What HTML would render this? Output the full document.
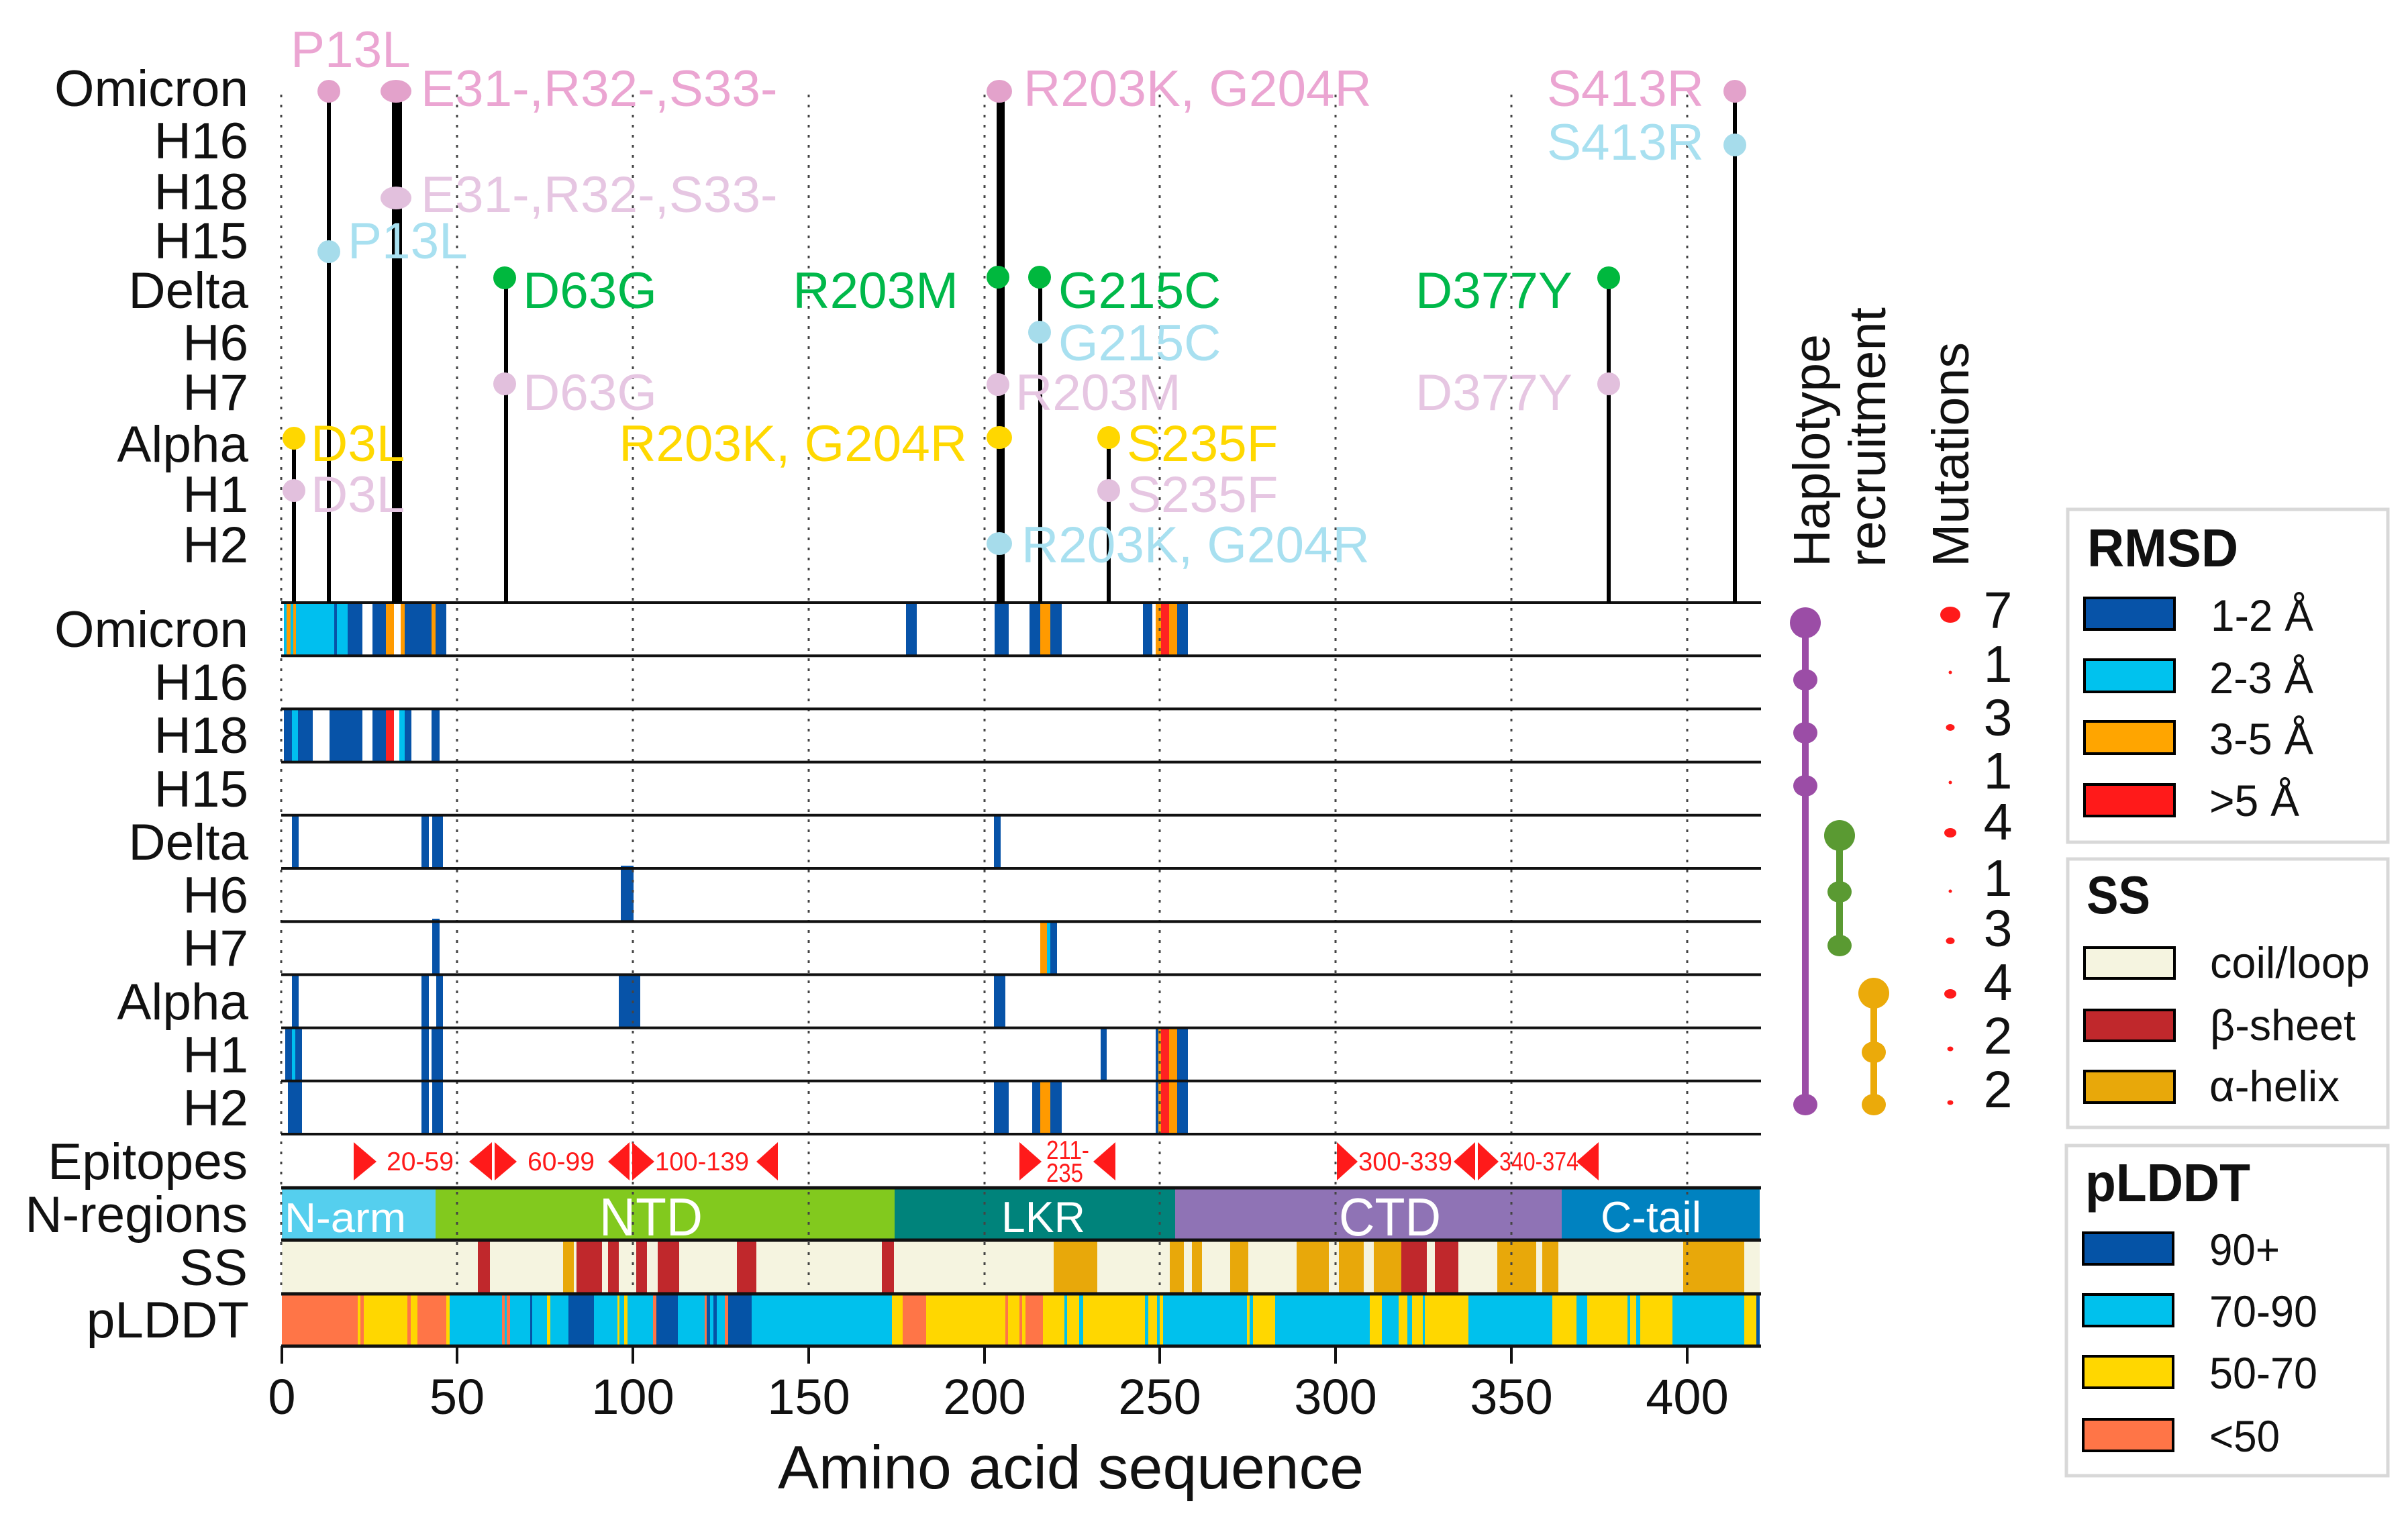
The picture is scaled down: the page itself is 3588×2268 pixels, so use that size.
<!DOCTYPE html>
<html><head><meta charset="utf-8"><style>
html,body{margin:0;padding:0;background:#fff;}
svg{display:block;}
text{font-family:"Liberation Sans",Arial,sans-serif;}
</style></head><body>
<svg width="3588" height="2268" viewBox="0 0 3588 2268" xmlns="http://www.w3.org/2000/svg">
<rect x="0" y="0" width="3588" height="2268" fill="#fff"/>

<!-- RMSD bars -->
<g>
<!-- Omicron 898-977 -->
<rect x="423" y="898" width="4" height="79" fill="#00BFEF"/>
<rect x="427" y="898" width="6" height="79" fill="#FF9A00"/>
<rect x="433" y="898" width="4" height="79" fill="#00BFEF"/>
<rect x="437" y="898" width="4" height="79" fill="#FF9A00"/>
<rect x="441" y="898" width="57" height="79" fill="#00BFEF"/>
<rect x="498" y="898" width="4" height="79" fill="#0753A8"/>
<rect x="502" y="898" width="16" height="79" fill="#00BFEF"/>
<rect x="518" y="898" width="22" height="79" fill="#0753A8"/>
<rect x="555" y="898" width="20" height="79" fill="#0753A8"/>
<rect x="575" y="898" width="12" height="79" fill="#FF9A00"/>
<rect x="597" y="898" width="6" height="79" fill="#FF9A00"/>
<rect x="603" y="898" width="40" height="79" fill="#0753A8"/>
<rect x="643" y="898" width="6" height="79" fill="#FF9A00"/>
<rect x="649" y="898" width="16" height="79" fill="#0753A8"/>
<rect x="1350" y="898" width="16" height="79" fill="#0753A8"/>
<rect x="1482" y="898" width="21" height="79" fill="#0753A8"/>
<rect x="1534" y="898" width="16" height="79" fill="#0753A8"/>
<rect x="1550" y="898" width="15" height="79" fill="#FF9A00"/>
<rect x="1565" y="898" width="17" height="79" fill="#0753A8"/>
<rect x="1703" y="898" width="14" height="79" fill="#0753A8"/>
<rect x="1722" y="898" width="8" height="79" fill="#FF9A00"/>
<rect x="1730" y="898" width="12" height="79" fill="#FF2222"/>
<rect x="1742" y="898" width="12" height="79" fill="#FF9A00"/>
<rect x="1754" y="898" width="16" height="79" fill="#0753A8"/>
<!-- H18 1057-1135 -->
<rect x="423" y="1057" width="12" height="79" fill="#0753A8"/>
<rect x="435" y="1057" width="9" height="79" fill="#00BFEF"/>
<rect x="444" y="1057" width="22" height="79" fill="#0753A8"/>
<rect x="491" y="1057" width="49" height="79" fill="#0753A8"/>
<rect x="555" y="1057" width="20" height="79" fill="#0753A8"/>
<rect x="575" y="1057" width="12" height="79" fill="#FF2222"/>
<rect x="595" y="1057" width="8" height="79" fill="#00BFEF"/>
<rect x="603" y="1057" width="10" height="79" fill="#0753A8"/>
<rect x="643" y="1057" width="12" height="79" fill="#0753A8"/>
<!-- Delta 1215-1294 -->
<rect x="435" y="1215" width="10" height="79" fill="#0753A8"/>
<rect x="628" y="1215" width="11" height="79" fill="#0753A8"/>
<rect x="644" y="1215" width="16" height="79" fill="#0753A8"/>
<rect x="1481" y="1215" width="10" height="79" fill="#0753A8"/>
<!-- H6 -->
<rect x="925" y="1290" width="19" height="83" fill="#0753A8"/>
<!-- H7 1373-1453 -->
<rect x="644" y="1369" width="11" height="84" fill="#0753A8"/>
<rect x="1550" y="1373" width="10" height="80" fill="#FF9A00"/>
<rect x="1560" y="1373" width="5" height="80" fill="#00BFEF"/>
<rect x="1565" y="1373" width="10" height="80" fill="#0753A8"/>
<!-- Alpha 1453-1531 -->
<rect x="435" y="1453" width="10" height="78" fill="#0753A8"/>
<rect x="628" y="1453" width="11" height="78" fill="#0753A8"/>
<rect x="650" y="1453" width="10" height="78" fill="#0753A8"/>
<rect x="922" y="1453" width="32" height="78" fill="#0753A8"/>
<rect x="1481" y="1453" width="17" height="78" fill="#0753A8"/>
<!-- H1 1531-1611 -->
<rect x="425" y="1531" width="10" height="80" fill="#0753A8"/>
<rect x="435" y="1531" width="5" height="80" fill="#00BFEF"/>
<rect x="440" y="1531" width="10" height="80" fill="#0753A8"/>
<rect x="628" y="1531" width="11" height="80" fill="#0753A8"/>
<rect x="643" y="1531" width="17" height="80" fill="#0753A8"/>
<rect x="1640" y="1531" width="9" height="80" fill="#0753A8"/>
<rect x="1722" y="1531" width="4" height="80" fill="#0753A8"/>
<rect x="1726" y="1531" width="4" height="80" fill="#FF9A00"/>
<rect x="1730" y="1531" width="12" height="80" fill="#FF2222"/>
<rect x="1742" y="1531" width="12" height="80" fill="#FF9A00"/>
<rect x="1754" y="1531" width="16" height="80" fill="#0753A8"/>
<!-- H2 1611-1690 -->
<rect x="429" y="1611" width="21" height="79" fill="#0753A8"/>
<rect x="628" y="1611" width="11" height="79" fill="#0753A8"/>
<rect x="644" y="1611" width="16" height="79" fill="#0753A8"/>
<rect x="1481" y="1611" width="22" height="79" fill="#0753A8"/>
<rect x="1538" y="1611" width="12" height="79" fill="#0753A8"/>
<rect x="1550" y="1611" width="15" height="79" fill="#FF9A00"/>
<rect x="1565" y="1611" width="17" height="79" fill="#0753A8"/>
<rect x="1722" y="1611" width="4" height="79" fill="#0753A8"/>
<rect x="1726" y="1611" width="4" height="79" fill="#FF9A00"/>
<rect x="1730" y="1611" width="12" height="79" fill="#FF2222"/>
<rect x="1742" y="1611" width="12" height="79" fill="#FF9A00"/>
<rect x="1754" y="1611" width="16" height="79" fill="#0753A8"/>
</g>

<!-- N-regions -->
<rect x="420" y="1770" width="229" height="78" fill="#55CFEE"/>
<rect x="649" y="1770" width="684" height="78" fill="#82C91E"/>
<rect x="1333" y="1770" width="418" height="78" fill="#00837B"/>
<rect x="1751" y="1770" width="576" height="78" fill="#8F73B5"/>
<rect x="2327" y="1770" width="295" height="78" fill="#0082C0"/>

<!-- SS -->
<rect x="420" y="1848" width="2202" height="80" fill="#F5F4E0"/>
<g fill="#C0282C">
<rect x="712" y="1848" width="18" height="80"/>
<rect x="859" y="1848" width="38" height="80"/>
<rect x="906" y="1848" width="16" height="80"/>
<rect x="948" y="1848" width="16" height="80"/>
<rect x="980" y="1848" width="32" height="80"/>
<rect x="1098" y="1848" width="29" height="80"/>
<rect x="1314" y="1848" width="18" height="80"/>
<rect x="2088" y="1848" width="38" height="80"/>
<rect x="2138" y="1848" width="35" height="80"/>
</g>
<g fill="#E8A80A">
<rect x="839" y="1848" width="16" height="80"/>
<rect x="1570" y="1848" width="65" height="80"/>
<rect x="1743" y="1848" width="21" height="80"/>
<rect x="1776" y="1848" width="15" height="80"/>
<rect x="1833" y="1848" width="27" height="80"/>
<rect x="1932" y="1848" width="48" height="80"/>
<rect x="1995" y="1848" width="37" height="80"/>
<rect x="2047" y="1848" width="41" height="80"/>
<rect x="2231" y="1848" width="58" height="80"/>
<rect x="2298" y="1848" width="24" height="80"/>
<rect x="2508" y="1848" width="91" height="80"/>
</g>

<!-- pLDDT -->
<g>
<rect x="420" y="1928" width="2202" height="78" fill="#00C1ED"/>
<g fill="#FF7547">
<rect x="420" y="1928" width="113" height="78"/>
<rect x="537" y="1928" width="5" height="78"/>
<rect x="607" y="1928" width="5" height="78"/>
<rect x="622" y="1928" width="43" height="78"/>
<rect x="748" y="1928" width="4" height="78"/>
<rect x="755" y="1928" width="5" height="78"/>
<rect x="973" y="1928" width="5" height="78"/>
<rect x="1050" y="1928" width="3" height="78"/>
<rect x="1080" y="1928" width="5" height="78"/>
<rect x="1345" y="1928" width="35" height="78"/>
<rect x="1498" y="1928" width="4" height="78"/>
<rect x="1519" y="1928" width="4" height="78"/>
<rect x="1528" y="1928" width="26" height="78"/>
</g>
<g fill="#FFD700">
<rect x="533" y="1928" width="4" height="78"/>
<rect x="542" y="1928" width="65" height="78"/>
<rect x="612" y="1928" width="10" height="78"/>
<rect x="665" y="1928" width="5" height="78"/>
<rect x="815" y="1928" width="5" height="78"/>
<rect x="920" y="1928" width="3" height="78"/>
<rect x="930" y="1928" width="5" height="78"/>
<rect x="1329" y="1928" width="16" height="78"/>
<rect x="1380" y="1928" width="118" height="78"/>
<rect x="1502" y="1928" width="17" height="78"/>
<rect x="1523" y="1928" width="5" height="78"/>
<rect x="1554" y="1928" width="32" height="78"/>
<rect x="1590" y="1928" width="18" height="78"/>
<rect x="1614" y="1928" width="92" height="78"/>
<rect x="1711" y="1928" width="13" height="78"/>
<rect x="1728" y="1928" width="5" height="78"/>
<rect x="1858" y="1928" width="4" height="78"/>
<rect x="1867" y="1928" width="33" height="78"/>
<rect x="2041" y="1928" width="18" height="78"/>
<rect x="2084" y="1928" width="13" height="78"/>
<rect x="2104" y="1928" width="16" height="78"/>
<rect x="2123" y="1928" width="65" height="78"/>
<rect x="2313" y="1928" width="36" height="78"/>
<rect x="2365" y="1928" width="60" height="78"/>
<rect x="2429" y="1928" width="9" height="78"/>
<rect x="2444" y="1928" width="48" height="78"/>
<rect x="2599" y="1928" width="18" height="78"/>
</g>
<g fill="#0553A6">
<rect x="790" y="1928" width="3" height="78"/>
<rect x="847" y="1928" width="38" height="78"/>
<rect x="978" y="1928" width="32" height="78"/>
<rect x="1053" y="1928" width="5" height="78"/>
<rect x="1063" y="1928" width="5" height="78"/>
<rect x="1085" y="1928" width="35" height="78"/>
<rect x="2617" y="1928" width="5" height="78"/>
</g>
</g>

<!-- gridlines -->
<g stroke="#444" stroke-width="3" stroke-dasharray="4 11">
<line x1="419" y1="141" x2="419" y2="1926"/>
<line x1="681" y1="141" x2="681" y2="1926"/>
<line x1="943" y1="141" x2="943" y2="1926"/>
<line x1="1205" y1="141" x2="1205" y2="1926"/>
<line x1="1467" y1="141" x2="1467" y2="1926"/>
<line x1="1728" y1="141" x2="1728" y2="1926"/>
<line x1="1990" y1="141" x2="1990" y2="1926"/>
<line x1="2252" y1="141" x2="2252" y2="1926"/>
<line x1="2514" y1="141" x2="2514" y2="1926"/>
</g>

<!-- row lines -->
<g stroke="#111" stroke-width="4">
<line x1="419" y1="898" x2="2624" y2="898"/>
<line x1="419" y1="977.2" x2="2624" y2="977.2"/>
<line x1="419" y1="1056.4" x2="2624" y2="1056.4"/>
<line x1="419" y1="1135.6" x2="2624" y2="1135.6"/>
<line x1="419" y1="1214.8" x2="2624" y2="1214.8"/>
<line x1="419" y1="1294" x2="2624" y2="1294"/>
<line x1="419" y1="1373.2" x2="2624" y2="1373.2"/>
<line x1="419" y1="1452.4" x2="2624" y2="1452.4"/>
<line x1="419" y1="1531.6" x2="2624" y2="1531.6"/>
<line x1="419" y1="1610.8" x2="2624" y2="1610.8"/>
<line x1="419" y1="1690" x2="2624" y2="1690"/>
</g>
<g stroke="#111" stroke-width="5">
<line x1="419" y1="1770" x2="2624" y2="1770"/>
<line x1="419" y1="1848" x2="2624" y2="1848"/>
<line x1="419" y1="1928" x2="2624" y2="1928"/>
<line x1="419" y1="2006" x2="2624" y2="2006"/>
</g>
<!-- ticks -->
<g stroke="#111" stroke-width="4">
<line x1="420" y1="2006" x2="420" y2="2032"/>
<line x1="681" y1="2006" x2="681" y2="2032"/>
<line x1="943" y1="2006" x2="943" y2="2032"/>
<line x1="1205" y1="2006" x2="1205" y2="2032"/>
<line x1="1467" y1="2006" x2="1467" y2="2032"/>
<line x1="1728" y1="2006" x2="1728" y2="2032"/>
<line x1="1990" y1="2006" x2="1990" y2="2032"/>
<line x1="2252" y1="2006" x2="2252" y2="2032"/>
<line x1="2514" y1="2006" x2="2514" y2="2032"/>
</g>
<g font-size="74" text-anchor="middle" fill="#111">
<text x="420" y="2107">0</text>
<text x="681" y="2107">50</text>
<text x="943" y="2107">100</text>
<text x="1205" y="2107">150</text>
<text x="1467" y="2107">200</text>
<text x="1728" y="2107">250</text>
<text x="1990" y="2107">300</text>
<text x="2252" y="2107">350</text>
<text x="2514" y="2107">400</text>
</g>
<text x="1159" y="2218" font-size="91" fill="#111" textLength="873" lengthAdjust="spacingAndGlyphs">Amino acid sequence</text>

<!-- stems -->
<g fill="#000">
<rect x="435" y="653" width="6" height="245"/>
<rect x="487" y="136" width="6" height="762"/>
<rect x="584" y="136" width="15" height="762"/>
<rect x="751" y="414" width="6" height="484"/>
<rect x="1485" y="136" width="12" height="762"/>
<rect x="1547" y="414" width="6" height="484"/>
<rect x="1649" y="653" width="6" height="245"/>
<rect x="2394" y="414" width="6" height="484"/>
<rect x="2582" y="136" width="6" height="762"/>
</g>

<!-- dots -->
<g>
<circle cx="490" cy="136" r="17" fill="#E3A2CB"/>
<ellipse cx="590" cy="136" rx="23" ry="17" fill="#E3A2CB"/>
<ellipse cx="1489" cy="136" rx="19" ry="17" fill="#E3A2CB"/>
<circle cx="2585" cy="136" r="17" fill="#E3A2CB"/>
<circle cx="2585" cy="216" r="17" fill="#A6DCEB"/>
<ellipse cx="590" cy="295" rx="23" ry="17" fill="#E2C0DD"/>
<circle cx="490" cy="375" r="17" fill="#A6DCEB"/>
<circle cx="752" cy="414" r="17" fill="#00B83E"/>
<circle cx="1487" cy="413" r="17" fill="#00B83E"/>
<circle cx="1549" cy="413" r="17" fill="#00B83E"/>
<circle cx="2397" cy="414" r="17" fill="#00B83E"/>
<circle cx="1549" cy="495" r="17" fill="#A6DCEB"/>
<circle cx="752" cy="572" r="17" fill="#E2C0DD"/>
<circle cx="1487" cy="573" r="17" fill="#E2C0DD"/>
<circle cx="2397" cy="572" r="17" fill="#E2C0DD"/>
<circle cx="438" cy="653" r="17" fill="#FFD700"/>
<ellipse cx="1489" cy="652" rx="19" ry="17" fill="#FFD700"/>
<circle cx="1652" cy="652" r="17" fill="#FFD700"/>
<circle cx="438" cy="731" r="17" fill="#E2C0DD"/>
<circle cx="1652" cy="731" r="17" fill="#E2C0DD"/>
<ellipse cx="1489" cy="810" rx="19" ry="17" fill="#A6DCEB"/>
</g>

<!-- mutation labels -->
<g font-size="76.5">
<text x="433" y="100" fill="#EBA5D2">P13L</text>
<text x="627" y="158" fill="#EBA5D2">E31-,R32-,S33-</text>
<text x="1525" y="158" fill="#EBA5D2">R203K, G204R</text>
<text x="2305" y="158" fill="#EBA5D2">S413R</text>
<text x="2305" y="238" fill="#A8E0F0">S413R</text>
<text x="627" y="316" fill="#E6C6E2">E31-,R32-,S33-</text>
<text x="518" y="385" fill="#A8E0F0">P13L</text>
<text x="779" y="459" fill="#00B84A">D63G</text>
<text x="1428" y="459" fill="#00B84A" text-anchor="end">R203M</text>
<text x="1577" y="459" fill="#00B84A">G215C</text>
<text x="2109" y="459" fill="#00B84A">D377Y</text>
<text x="1577" y="537" fill="#A8E0F0">G215C</text>
<text x="779" y="611" fill="#E6C6E2">D63G</text>
<text x="1513" y="611" fill="#E6C6E2">R203M</text>
<text x="2109" y="611" fill="#E6C6E2">D377Y</text>
<text x="463" y="687" fill="#FFD800">D3L</text>
<text x="1441" y="687" fill="#FFD800" text-anchor="end">R203K, G204R</text>
<text x="1679" y="687" fill="#FFD800">S235F</text>
<text x="463" y="763" fill="#E6C6E2">D3L</text>
<text x="1679" y="763" fill="#E6C6E2">S235F</text>
<text x="1522" y="838" fill="#A8E0F0">R203K, G204R</text>
</g>

<!-- row labels -->
<g font-size="76.5" text-anchor="end" fill="#111">
<text x="370" y="158">Omicron</text>
<text x="370" y="236">H16</text>
<text x="370" y="312">H18</text>
<text x="370" y="385">H15</text>
<text x="370" y="459">Delta</text>
<text x="370" y="537">H6</text>
<text x="370" y="611">H7</text>
<text x="370" y="688">Alpha</text>
<text x="370" y="763">H1</text>
<text x="370" y="838">H2</text>

<text x="370" y="964">Omicron</text>
<text x="370" y="1043">H16</text>
<text x="370" y="1122">H18</text>
<text x="370" y="1202">H15</text>
<text x="370" y="1281">Delta</text>
<text x="370" y="1360">H6</text>
<text x="370" y="1439">H7</text>
<text x="370" y="1519">Alpha</text>
<text x="370" y="1598">H1</text>
<text x="370" y="1677">H2</text>

<text x="369" y="1757">Epitopes</text>
<text x="369" y="1836">N-regions</text>
<text x="369" y="1915">SS</text>
<text x="371" y="1993">pLDDT</text>
</g>

<!-- epitopes -->
<g fill="#FF1A1A">
<polygon points="527,1702 561,1731 527,1759"/>
<polygon points="699,1731 733,1702 733,1759"/>
<polygon points="737,1702 770,1731 737,1759"/>
<polygon points="906,1731 938,1702 938,1759"/>
<polygon points="942,1702 975,1731 942,1759"/>
<polygon points="1127,1731 1159,1702 1159,1759"/>
<polygon points="1519,1702 1552,1731 1519,1759"/>
<polygon points="1629,1731 1662,1702 1662,1759"/>
<polygon points="1992,1702 2023,1731 1992,1759"/>
<polygon points="2166,1731 2198,1702 2198,1759"/>
<polygon points="2202,1702 2233,1731 2202,1759"/>
<polygon points="2349,1731 2382,1702 2382,1759"/>
</g>
<g font-size="39" fill="#FF1A1A">
<text x="576" y="1744" textLength="100" lengthAdjust="spacingAndGlyphs">20-59</text>
<text x="786" y="1744" textLength="100" lengthAdjust="spacingAndGlyphs">60-99</text>
<text x="976" y="1744" textLength="140" lengthAdjust="spacingAndGlyphs">100-139</text>
<text x="1559" y="1727" textLength="64" lengthAdjust="spacingAndGlyphs">211-</text>
<text x="1559" y="1761" textLength="55" lengthAdjust="spacingAndGlyphs">235</text>
<text x="2024" y="1744" textLength="140" lengthAdjust="spacingAndGlyphs">300-339</text>
<text x="2234" y="1744" textLength="118" lengthAdjust="spacingAndGlyphs">340-374</text>
</g>

<!-- region labels -->
<g fill="#fff">
<text x="424" y="1836" font-size="62" textLength="181" lengthAdjust="spacingAndGlyphs">N-arm</text>
<text x="893" y="1841" font-size="80" textLength="154" lengthAdjust="spacingAndGlyphs">NTD</text>
<text x="1492" y="1836" font-size="65" textLength="125" lengthAdjust="spacingAndGlyphs">LKR</text>
<text x="1995" y="1841" font-size="80" textLength="152" lengthAdjust="spacingAndGlyphs">CTD</text>
<text x="2385" y="1836" font-size="65" textLength="150" lengthAdjust="spacingAndGlyphs">C-tail</text>
</g>

<!-- Haplotype recruitment / Mutations headers -->
<g font-size="77" fill="#111">
<text transform="translate(2726,845) rotate(-90)" textLength="347" lengthAdjust="spacingAndGlyphs">Haplotype</text>
<text transform="translate(2809,845) rotate(-90)" textLength="387" lengthAdjust="spacingAndGlyphs">recruitment</text>
<text transform="translate(2933,845) rotate(-90)" textLength="335" lengthAdjust="spacingAndGlyphs">Mutations</text>
</g>

<!-- haplotype recruitment -->
<g>
<rect x="2685" y="928" width="10" height="718" fill="#9B4DA6"/>
<circle cx="2690" cy="928" r="23" fill="#9B4DA6"/>
<ellipse cx="2690" cy="1013" rx="18" ry="16" fill="#9B4DA6"/>
<ellipse cx="2690" cy="1092" rx="18" ry="16" fill="#9B4DA6"/>
<ellipse cx="2690" cy="1171" rx="18" ry="16" fill="#9B4DA6"/>
<ellipse cx="2690" cy="1646" rx="18" ry="16" fill="#9B4DA6"/>
<rect x="2736" y="1245" width="10" height="164" fill="#5A9A32"/>
<circle cx="2741" cy="1245" r="23" fill="#5A9A32"/>
<ellipse cx="2741" cy="1329" rx="18" ry="16" fill="#5A9A32"/>
<ellipse cx="2741" cy="1409" rx="18" ry="16" fill="#5A9A32"/>
<rect x="2787" y="1480" width="10" height="166" fill="#EBAA0A"/>
<circle cx="2792" cy="1480" r="23" fill="#EBAA0A"/>
<ellipse cx="2792" cy="1568" rx="18" ry="16" fill="#EBAA0A"/>
<ellipse cx="2792" cy="1646" rx="18" ry="16" fill="#EBAA0A"/>
</g>

<!-- mutation counts -->
<g fill="#FF1A1A">
<ellipse cx="2906" cy="916" rx="15" ry="12"/>
<circle cx="2906" cy="1002" r="2.5"/>
<ellipse cx="2906" cy="1084" rx="6.5" ry="5"/>
<circle cx="2906" cy="1166" r="2.5"/>
<ellipse cx="2906" cy="1241" rx="9" ry="7"/>
<circle cx="2906" cy="1328" r="2.5"/>
<ellipse cx="2906" cy="1402" rx="6.5" ry="5"/>
<ellipse cx="2906" cy="1481" rx="9" ry="7"/>
<ellipse cx="2906" cy="1563" rx="4.5" ry="3.5"/>
<ellipse cx="2906" cy="1643" rx="4.5" ry="3.5"/>
</g>
<g font-size="77" fill="#111" text-anchor="middle">
<text x="2977" y="936">7</text>
<text x="2977" y="1016">1</text>
<text x="2977" y="1096">3</text>
<text x="2977" y="1175">1</text>
<text x="2977" y="1251">4</text>
<text x="2977" y="1335">1</text>
<text x="2977" y="1410">3</text>
<text x="2977" y="1490">4</text>
<text x="2977" y="1570">2</text>
<text x="2977" y="1650">2</text>
</g>

<!-- Legends -->
<g>
<rect x="3081" y="759" width="477" height="496" fill="#fff" stroke="#D8D8D8" stroke-width="5"/>
<text x="3110" y="844" font-size="80" font-weight="bold" fill="#111" textLength="225" lengthAdjust="spacingAndGlyphs">RMSD</text>
<rect x="3106" y="891" width="134" height="47" fill="#0753A8" stroke="#000" stroke-width="4"/>
<rect x="3106" y="983" width="134" height="48" fill="#00C2EE" stroke="#000" stroke-width="4"/>
<rect x="3106" y="1075" width="134" height="48" fill="#FFA500" stroke="#000" stroke-width="4"/>
<rect x="3106" y="1169" width="134" height="47" fill="#FF1A1A" stroke="#000" stroke-width="4"/>
<g font-size="66" fill="#111">
<text x="3294" y="940" textLength="153" lengthAdjust="spacingAndGlyphs">1-2 Å</text>
<text x="3292" y="1033" textLength="155" lengthAdjust="spacingAndGlyphs">2-3 Å</text>
<text x="3292" y="1124" textLength="155" lengthAdjust="spacingAndGlyphs">3-5 Å</text>
<text x="3292" y="1216" textLength="134" lengthAdjust="spacingAndGlyphs">&gt;5 Å</text>
</g>

<rect x="3081" y="1280" width="477" height="400" fill="#fff" stroke="#D8D8D8" stroke-width="5"/>
<text x="3109" y="1361" font-size="80" font-weight="bold" fill="#111" textLength="95" lengthAdjust="spacingAndGlyphs">SS</text>
<rect x="3106" y="1412" width="134" height="46" fill="#F5F4E0" stroke="#000" stroke-width="4"/>
<rect x="3106" y="1505" width="134" height="46" fill="#C0282C" stroke="#000" stroke-width="4"/>
<rect x="3106" y="1596" width="134" height="47" fill="#E8A80A" stroke="#000" stroke-width="4"/>
<g font-size="65" fill="#111">
<text x="3293" y="1457" textLength="238" lengthAdjust="spacingAndGlyphs">coil/loop</text>
<text x="3293" y="1550" textLength="217" lengthAdjust="spacingAndGlyphs">β-sheet</text>
<text x="3292" y="1641" textLength="194" lengthAdjust="spacingAndGlyphs">α-helix</text>
</g>

<rect x="3079" y="1707" width="479" height="492" fill="#fff" stroke="#D8D8D8" stroke-width="5"/>
<text x="3107" y="1790" font-size="80" font-weight="bold" fill="#111" textLength="246" lengthAdjust="spacingAndGlyphs">pLDDT</text>
<rect x="3104" y="1837" width="134" height="47" fill="#0553A6" stroke="#000" stroke-width="4"/>
<rect x="3104" y="1929" width="134" height="47" fill="#00C1ED" stroke="#000" stroke-width="4"/>
<rect x="3104" y="2021" width="134" height="47" fill="#FFD700" stroke="#000" stroke-width="4"/>
<rect x="3104" y="2115" width="134" height="47" fill="#FF7547" stroke="#000" stroke-width="4"/>
<g font-size="66" fill="#111">
<text x="3292" y="1885" textLength="105" lengthAdjust="spacingAndGlyphs">90+</text>
<text x="3292" y="1977" textLength="161" lengthAdjust="spacingAndGlyphs">70-90</text>
<text x="3292" y="2069" textLength="161" lengthAdjust="spacingAndGlyphs">50-70</text>
<text x="3292" y="2163" textLength="105" lengthAdjust="spacingAndGlyphs">&lt;50</text>
</g>
</g>
</svg>
</body></html>
